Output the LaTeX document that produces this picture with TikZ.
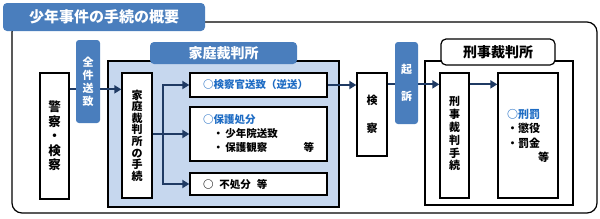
\documentclass[tikz,border=0pt]{standalone}
\usepackage{fontspec}
\setmainfont{Noto Sans CJK JP}
\usepackage{tikz}
\usetikzlibrary{arrows.meta, positioning, calc}
\definecolor{jpblue}{RGB}{74,126,189}
\definecolor{jplight}{RGB}{198,215,238}
\definecolor{jpnavy}{RGB}{31,58,99}
\definecolor{jptext}{RGB}{30,108,196}

\begin{document}
\begin{tikzpicture}[
  x=1pt, y=-1pt,
  >={Triangle[length=7pt, width=8pt]},
  vbox/.style={
    draw, line width=1.3pt, fill=white,
    inner sep=0pt, align=center,
    font=\fontsize{11}{13}\selectfont\bfseries
  },
  tab/.style={
    fill=jpblue, rounded corners=3pt,
    inner sep=0pt, align=center, text=white,
    font=\fontsize{11}{13}\selectfont\bfseries
  },
  result/.style={
    draw, line width=1.3pt, fill=white,
    inner ysep=0pt, inner xsep=13pt, minimum width=137pt,
    align=left, text width=111pt,
    font=\fontsize{10.5}{14}\selectfont\bfseries
  },
  flow/.style={->, line width=2.2pt, jpnavy}
]
\useasboundingbox (0,0) rectangle (600,218);

%% ============================================================
%%  OUTER FRAME AND TITLE
%% ============================================================
\draw[line width=1.2pt, rounded corners=10pt] (12,22) rectangle (597,213);
\node[tab, rounded corners=4pt, minimum width=202pt, minimum height=28pt,
  font=\fontsize{15}{17}\selectfont\bfseries] (title) at (104,17)
  {少年事件の手続の概要};

%% ============================================================
%%  POLICE / PROSECUTION
%% ============================================================
\node[vbox, minimum width=29pt, minimum height=126pt,
  font=\fontsize{12.5}{14.5}\selectfont\bfseries] (police) at (54.5,136)
  {警\\察\\・\\検\\察};

%% ============================================================
%%  FAMILY COURT
%% ============================================================
\draw[fill=jplight, line width=1.5pt] (108,61) rectangle (339,207);
\node[tab, rounded corners=4pt, minimum width=147pt, minimum height=22pt,
  font=\fontsize{14}{16}\selectfont\bfseries] (famtab) at (223.5,53)
  {家庭裁判所};

\node[vbox, minimum width=30pt, minimum height=125pt,
  font=\fontsize{11}{11.6}\selectfont\bfseries] (famproc) at (137,135.5)
  {家\\庭\\裁\\判\\所\\の\\手\\続};

%% Dispositions
\node[result, minimum height=24pt] (res1) at (258.5,85)
  {\color{jptext}○検察官送致（逆送）};
\node[result, minimum height=54pt] (res2) at (258.5,134)
  {{\color{jptext}○保護処分}\\
   \hspace*{10pt}・\hspace{2pt}少年院送致\\
   \hspace*{10pt}・\hspace{2pt}保護観察\hfill 等};
\node[result, minimum height=22pt] (res3) at (258.5,184)
  {○\hspace{6pt}不処分\hspace{6pt}等};

\coordinate (fork) at (163,134);

%% ============================================================
%%  PROSECUTOR
%% ============================================================
\node[vbox, minimum width=30pt, minimum height=83pt,
  font=\fontsize{11}{28}\selectfont\bfseries] (kensatsu) at (372,114.5)
  {検\\察};

%% ============================================================
%%  CRIMINAL COURT
%% ============================================================
\draw[line width=1.5pt] (425,61) rectangle (573,205);
\node[draw, line width=1.2pt, fill=white, rounded corners=5pt,
  minimum width=114pt, minimum height=26pt, inner sep=0pt,
  font=\fontsize{14}{16}\selectfont\bfseries] (keijitab) at (498,52)
  {刑事裁判所};

\node[vbox, minimum width=29pt, minimum height=125pt,
  font=\fontsize{11}{12.8}\selectfont\bfseries] (keijiproc) at (454.5,135.5)
  {\\[-7pt]刑\\事\\裁\\判\\手\\続};

\node[vbox, minimum width=60pt, minimum height=125pt, inner xsep=9pt,
  align=left, text width=42pt,
  font=\fontsize{11}{14.5}\selectfont\bfseries] (penalty) at (528,135.5)
  {\\[-4pt]{\color{jptext}○刑罰}\\
   ・懲役\\
   ・罰金\\
   \hfill 等};

%% ============================================================
%%  ARROWS
%% ============================================================
\draw[flow] ([yshift=-17pt]police.north east) -- ([yshift=-17pt]famproc.north west);
\draw[flow] (famproc.east |- res2.west) -- (res2.west);
\draw[flow, <->] (res1.west) -- (fork |- res1.west)
  -- (fork |- res3.west) -- (res3.west);
\draw[flow] (res1.east) -- (res1.east -| kensatsu.west);
\draw[flow] ([yshift=-12pt]kensatsu.north east) -- ([yshift=-12pt]keijiproc.north west);
\draw[flow] ([yshift=-12pt]keijiproc.north east) -- ([yshift=-12pt]penalty.north west);

%% Blue tabs over the arrows
\node[tab, minimum width=24pt, minimum height=83pt] (sendall) at (88,81.5)
  {全\\件\\送\\致};
\node[tab, minimum width=23pt, minimum height=82pt,
  font=\fontsize{11}{27}\selectfont\bfseries] (kiso) at (406.5,83)
  {起\\訴};

\end{tikzpicture}
\end{document}
